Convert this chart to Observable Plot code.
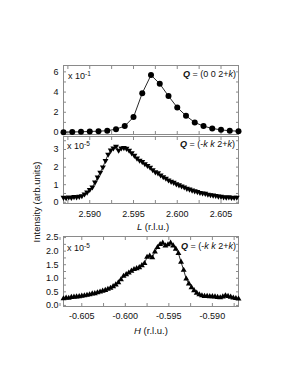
<!DOCTYPE html>
<html><head><meta charset="utf-8">
<script src="https://cdn.jsdelivr.net/npm/d3@7"></script>
<script src="https://cdn.jsdelivr.net/npm/@observablehq/plot@0.6"></script>
<style>
body{margin:0;background:#fff;}
#wrap{position:relative;width:291px;height:376px;font-family:"Liberation Sans",Arial,sans-serif;color:#111;overflow:hidden;}
.p{position:absolute;left:0;}
.ann{position:absolute;font-size:9px;white-space:nowrap;line-height:9px;}
.ann sup{font-size:6.5px;vertical-align:3px;line-height:0;}
.r{text-align:right;}
.tt{position:absolute;font-size:9.5px;white-space:nowrap;line-height:10px;transform:translate(-50%,-50%);}
.yt{position:absolute;font-size:9.5px;white-space:nowrap;line-height:10px;transform:translate(-50%,-50%) rotate(-90deg);}
</style></head>
<body><div id="wrap"></div>
<script>
// Panel 1: Q = (0 0 2+k), intensity x 10^-1 vs L
const L1 = [2.587,2.588,2.589,2.590,2.591,2.592,2.593,2.594,2.595,2.596,2.597,2.598,2.599,2.600,2.601,2.602,2.603,2.604,2.605,2.606,2.607];
const I1 = [0.03,0.05,0.07,0.10,0.13,0.17,0.33,0.63,1.52,3.89,5.68,4.82,3.60,2.48,1.65,0.99,0.63,0.40,0.26,0.17,0.13];

// Panel 2: Q = (-k k 2+k), intensity x 10^-5 vs L
const L2 = [2.5870,2.5873,2.5876,2.5879,2.5882,2.5885,2.5888,2.5891,2.5894,2.5897,
  2.5900,2.5903,2.5906,2.5909,2.5912,2.5915,2.5918,2.5921,2.5924,2.5927,
  2.5930,2.5933,2.5936,2.5939,2.5942,2.5945,2.5948,2.5951,2.5954,2.5957,
  2.5960,2.5963,2.5966,2.5969,2.5972,2.5975,2.5978,2.5981,2.5984,2.5987,
  2.5990,2.5993,2.5996,2.5999,2.6002,2.6005,2.6008,2.6011,2.6014,2.6017,
  2.6020,2.6023,2.6026,2.6029,2.6032,2.6035,2.6038,2.6041,2.6044,2.6047,
  2.6050,2.6053,2.6056,2.6059,2.6062,2.6065,2.6068];
const I2 = [0.27,0.25,0.29,0.26,0.31,0.30,0.33,0.36,0.46,0.57,
  0.72,0.86,1.14,1.42,1.70,2.00,2.37,2.72,2.96,3.08,
  3.18,2.95,3.08,3.10,3.06,2.95,2.80,2.66,2.50,2.38,
  2.30,2.18,2.08,1.98,1.84,1.72,1.66,1.54,1.44,1.36,
  1.26,1.18,1.12,1.04,0.98,0.92,0.86,0.78,0.74,0.68,
  0.64,0.60,0.55,0.52,0.50,0.45,0.42,0.40,0.38,0.34,
  0.33,0.30,0.28,0.30,0.26,0.27,0.28];

// Panel 3: Q = (-k k 2+k), intensity x 10^-5 vs H
const H3 = [-0.6071,-0.6068,-0.6065,-0.6062,-0.6059,-0.6056,-0.6053,-0.6050,-0.6047,-0.6044,
  -0.6041,-0.6038,-0.6035,-0.6032,-0.6029,-0.6026,-0.6023,-0.6020,-0.6017,-0.6014,
  -0.6011,-0.6008,-0.6005,-0.6002,-0.5999,-0.5996,-0.5993,-0.5990,-0.5987,-0.5984,
  -0.5981,-0.5978,-0.5975,-0.5972,-0.5969,-0.5966,-0.5963,-0.5960,-0.5957,-0.5954,
  -0.5951,-0.5948,-0.5945,-0.5942,-0.5939,-0.5936,-0.5933,-0.5930,-0.5927,-0.5924,
  -0.5921,-0.5918,-0.5915,-0.5912,-0.5909,-0.5906,-0.5903,-0.5900,-0.5897,-0.5894,
  -0.5891,-0.5888,-0.5885,-0.5882,-0.5879,-0.5876,-0.5873,-0.5870];
const I3 = [0.25,0.28,0.27,0.30,0.31,0.32,0.33,0.35,0.36,0.38,
  0.40,0.43,0.44,0.47,0.50,0.53,0.56,0.60,0.64,0.70,
  0.76,0.84,0.95,1.08,1.14,1.20,1.27,1.33,1.36,1.40,
  1.47,1.55,1.78,1.82,1.76,1.98,2.14,2.25,2.30,2.20,
  2.24,2.30,2.20,2.08,1.92,1.60,1.30,0.98,0.80,0.66,
  0.55,0.46,0.40,0.36,0.34,0.34,0.33,0.33,0.32,0.30,
  0.29,0.32,0.36,0.34,0.31,0.28,0.26,0.24];

// tick values
const xTicksL = [2.590,2.595,2.600,2.605];
const xMinorL = [2.5875,2.590,2.5925,2.595,2.5975,2.600,2.6025,2.605];
const xTicksH = [-0.605,-0.600,-0.595,-0.590];
const xMinorH = [-0.6075,-0.605,-0.6025,-0.600,-0.5975,-0.595,-0.5925,-0.590,-0.5875];
const yTicks1 = [0,2,4,6];
const yMinor1 = [0,1,2,3,4,5,6];
const yTicks2 = [0,1,2,3];
const yMinor2 = [0,0.5,1,1.5,2,2.5,3,3.5];
const yTicks3 = [0,0.5,1,1.5,2,2.5];
const yMinor3 = [0,0.25,0.5,0.75,1,1.25,1.5,1.75,2,2.25,2.5];

const wrap = document.getElementById("wrap");
const FRAME = "#8a8a8a";
const blank = () => "";

function panel(o) {
  const data = o.xs.map((x, i) => ({x, y: o.ys[i]}));
  const marks = [
    Plot.frame({stroke: FRAME, strokeWidth: 1}),
    Plot.axisY(o.yMinor, {anchor: "left", tickSize: -3, tickFormat: blank, stroke: FRAME, label: null}),
    Plot.axisY(o.yMinor, {anchor: "right", tickSize: -3, tickFormat: blank, stroke: FRAME, label: null}),
    Plot.axisY(o.yTicks, {anchor: "left", tickSize: 0, tickPadding: 5, tickFormat: o.yFmt, label: null, fontSize: 9, fill: "#111"}),
    Plot.axisX(o.xMinor, {anchor: "top", tickSize: -3, tickFormat: blank, stroke: FRAME, label: null}),
    Plot.axisX(o.xMinor, {anchor: "bottom", tickSize: -3, tickFormat: blank, stroke: FRAME, label: null}),
    Plot.line(data, {x: "x", y: "y", stroke: "#111", strokeWidth: 0.9}),
    Plot.dot(data, {x: "x", y: "y", symbol: o.symbol, r: o.r, fill: "#000", stroke: "none", rotate: o.rotate || 0})
  ];
  if (o.xTicks) marks.push(Plot.axisX(o.xTicks, {anchor: "bottom", tickSize: 0, tickPadding: o.xPad, tickFormat: d => d.toFixed(3).replace("\u2212", "-"), label: null, fontSize: 9, fill: "#111"}));
  const svg = Plot.plot({
    width: 291, height: o.height,
    marginLeft: 63, marginRight: 53, marginTop: o.mt, marginBottom: o.mb,
    style: {fontFamily: "'Liberation Sans', Arial, sans-serif", fontSize: "9px", background: "transparent", overflow: "visible"},
    x: {domain: o.xDomain, axis: null},
    y: {domain: o.yDomain, axis: null},
    marks
  });
  const d = document.createElement("div");
  d.className = "p";
  d.style.top = o.top + "px";
  d.appendChild(svg);
  wrap.appendChild(d);
}

panel({xs: L1, ys: I1, top: 55, height: 80, mt: 10, mb: 1,
  xDomain: [2.587, 2.607], yDomain: [-0.2, 6.63],
  yTicks: yTicks1, yMinor: yMinor1, yFmt: d => String(d),
  xMinor: xMinorL, xTicks: null, symbol: "circle", r: 3.0});

panel({xs: L2, ys: I2, top: 134, height: 101, mt: 2, mb: 32,
  xDomain: [2.587, 2.607], yDomain: [-0.07, 3.74],
  yTicks: yTicks2, yMinor: yMinor2, yFmt: d => String(d),
  xMinor: xMinorL, xTicks: xTicksL, xPad: 7, symbol: "triangle", r: 2.2, rotate: 180});

panel({xs: H3, ys: I3, top: 233, height: 103, mt: 3, mb: 30,
  xDomain: [-0.6071, -0.587], yDomain: [-0.04, 2.54],
  yTicks: yTicks3, yMinor: yMinor3, yFmt: d => d.toFixed(1),
  xMinor: xMinorH, xTicks: xTicksH, xPad: 6, symbol: "triangle", r: 2.2});

function add(cls, html, css) {
  const e = document.createElement("div");
  e.className = cls;
  e.innerHTML = html;
  Object.assign(e.style, css);
  wrap.appendChild(e);
}
// annotations
add("ann", "x 10<sup>-1</sup>", {left: "68px", top: "72px"});
add("ann r", "<b><i>Q</i></b> = (0 0 2+<i>k</i>)", {right: "55px", top: "70px"});
add("ann", "x 10<sup>-5</sup>", {left: "67px", top: "142px"});
add("ann r", "<b><i>Q</i></b> = (-<i>k</i> <i>k</i> 2+<i>k</i>)", {right: "56px", top: "140px"});
add("ann", "x 10<sup>-5</sup>", {left: "67px", top: "244px"});
add("ann r", "<b><i>Q</i></b> = (-<i>k</i> <i>k</i> 2+<i>k</i>)", {right: "55px", top: "242px"});
// axis titles
add("tt", "<i>L</i> (r.l.u.)", {left: "153px", top: "227px"});
add("tt", "<i>H</i> (r.l.u.)", {left: "151px", top: "331px"});
add("yt", "Intensity (arb.units)", {left: "37px", top: "202px"});
</script>
</body></html>
